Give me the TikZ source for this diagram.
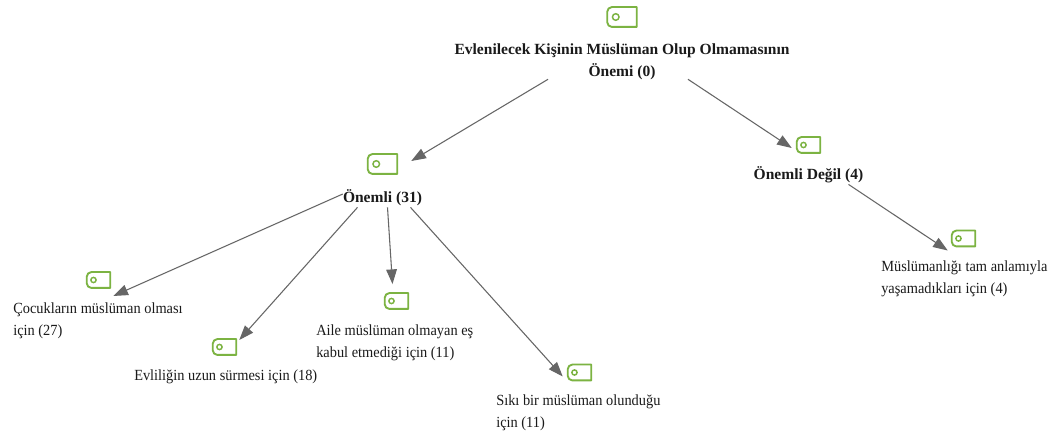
\documentclass[tikz,border=0pt]{standalone}
\usepackage{fontspec}
\setmainfont{Liberation Serif}
\newfontfamily\narrowserif[FakeStretch=0.93]{Liberation Serif}
\definecolor{taggreen}{HTML}{7CB342}
\definecolor{linkgrey}{HTML}{666666}
\definecolor{txt}{HTML}{1A1A1A}
\usetikzlibrary{arrows.meta}
\tikzset{
 lab/.style={inner sep=0pt,text=txt,font=\narrowserif\fontsize{11.6pt}{16.5pt}\selectfont,align=left},
 labb/.style={inner sep=0pt,text=txt,font=\fontsize{11.65pt}{16.5pt}\selectfont\bfseries,align=center},
 conn/.style={draw=linkgrey,line width=0.8pt,-{Triangle[length=11pt,width=8pt]}},
 tagnode/.style={inner sep=0pt,minimum width=#1*0.75pt,minimum height=#1*0.5pt},
 tagline/.style={draw=taggreen,line width=1.4pt,line join=round}
}
\newcommand{\tagicon}[4]{% name, x, y, width
 \node[tagnode=#4] (#1) at (#2,#3) {};
 \draw[tagline] (#1.north east) -- (#1.south east) -- ([xshift=3.5pt]#1.south west)
   arc[start angle=-90,end angle=-180,radius=3.5pt] -- ([yshift=-3.5pt]#1.north west)
   arc[start angle=180,end angle=90,radius=3.5pt] -- cycle;
 \draw[taggreen,line width=1.1pt] ([xshift=#4*0.22pt]#1.west) circle[radius=#4*0.085pt];
}
\begin{document}
\begin{tikzpicture}[x=0.75pt,y=-0.75pt]
\useasboundingbox (0,0) rectangle (1058,434);
\fill[white] (0,0) rectangle (1058,434);
\tagicon{iroot}{622}{17}{29}
\tagicon{ionem}{382.5}{164}{29}
\tagicon{icoc}{98.5}{280}{23}
\tagicon{ievl}{224.5}{347}{23}
\tagicon{iail}{396.5}{301}{23}
\tagicon{isik}{579.5}{372.5}{23}
\tagicon{ideg}{808.5}{145}{23}
\tagicon{imus}{963.5}{238.5}{23}
\node[labb] (root) at (622,62) {Evlenilecek Kişinin Müslüman Olup Olmamasının\\Önemi (0)};
\node[labb] (onem) at (382.5,198) {Önemli (31)};
\node[labb] (deg) at (808.5,175) {Önemli Değil (4)};
\node[lab,anchor=west] (coc) at (13,321) {Çocukların müslüman olması\\için (27)};
\node[lab,anchor=west] (evl) at (134,377) {Evliliğin uzun sürmesi için (18)};
\node[lab,anchor=west] (ail) at (316,343) {Aile müslüman olmayan eş\\kabul etmediği için (11)};
\node[lab,anchor=west] (sik) at (496,413) {Sıkı bir müslüman olunduğu\\için (11)};
\node[lab,anchor=west] (mus) at (881,279) {Müslümanlığı tam anlamıyla\\yaşamadıkları için (4)};
\draw[conn] ([shift={(-74,-1)}]root.south) -- ([shift={(14,-3)}]ionem.east);
\draw[conn] ([shift={(66,-1)}]root.south) -- ([shift={(-5,3)}]ideg.west);
\draw[conn] ([shift={(0,-4)}]onem.west) -- ([shift={(3,16)}]icoc.east);
\draw[conn] ([shift={(-25,1)}]onem.south) -- ([shift={(3,-7)}]ievl.east);
\draw[conn] ([shift={(5,1)}]onem.south) -- ([shift={(-4,-9)}]iail.north);
\draw[conn] ([shift={(28,1)}]onem.south) -- ([shift={(-5,4)}]isik.west);
\draw[conn] ([shift={(40,1)}]deg.south) -- ([shift={(-4,12)}]imus.west);
\end{tikzpicture}
\end{document}
